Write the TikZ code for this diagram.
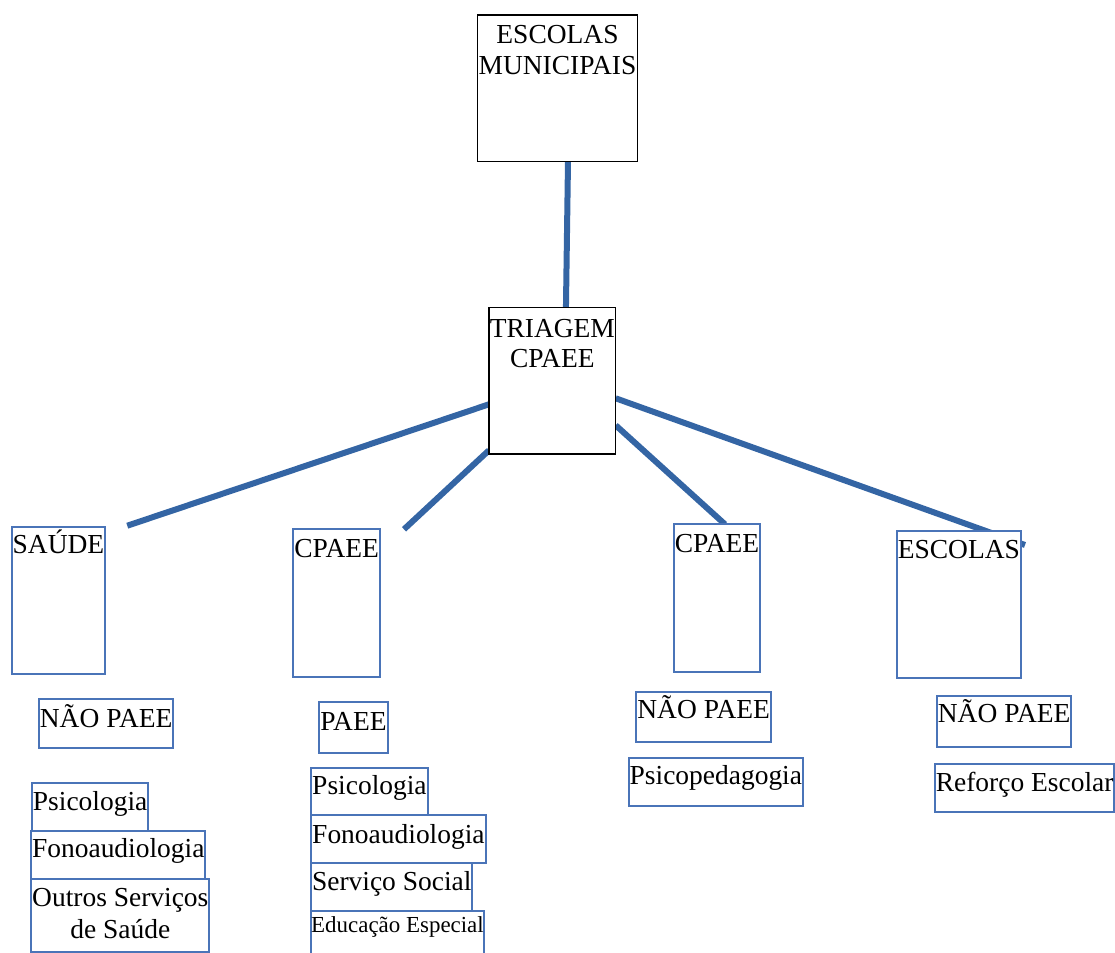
\documentclass[tikz,border=0pt]{standalone}
\usepackage{fontspec}
\setmainfont{Liberation Serif}
\usetikzlibrary{calc,backgrounds}
\definecolor{lineblue}{HTML}{3465A4}
\definecolor{boxblue}{HTML}{4A74B8}
\tikzset{
  bx/.style={draw=boxblue, line width=1.4pt, fill=white, inner sep=0pt, outer sep=0pt, anchor=north west},
  bkbx/.style={bx, draw=black, line width=1.1pt},
  lbl/.style={anchor=base, inner sep=0pt, font=\fontsize{20.6}{23.25}\selectfont, align=center},
  smalllbl/.style={lbl, font=\fontsize{17.2}{20}\selectfont},
  conn/.style={draw=lineblue, line width=4.5pt},
}
\newcommand\mkbox[6]{%
  \node[#2, minimum width={(#5-#3)*0.75pt}, minimum height={(#6-#4)*0.75pt}] (#1) at (#3,#4) {};}
\begin{document}
\begin{tikzpicture}[x=0.75pt, y=-0.75pt]
\useasboundingbox (0,0) rectangle (1115,953);
% top
\mkbox{em}{bkbx}{477.7}{15}{637.3}{161.7}
\mkbox{tri}{bkbx}{489}{307.3}{615.7}{454}
% second row
\mkbox{saude}{bx}{11.7}{526.7}{105.3}{673.7}
\mkbox{cpaeeL}{bx}{293.3}{529.3}{380}{676.7}
\mkbox{cpaeeR}{bx}{673.7}{524.3}{760.3}{671.7}
\mkbox{escolas}{bx}{896.7}{531}{1021}{677.7}
% third row
\mkbox{naoL}{bx}{39}{699.3}{173.3}{747.7}
\mkbox{paee}{bx}{319.3}{702.3}{387.7}{753.3}
\mkbox{naoM}{bx}{636.3}{692}{771}{742.3}
\mkbox{naoR}{bx}{937}{696.3}{1071.3}{747}
% services
\mkbox{psiL}{bx}{32}{783.3}{148.3}{830.7}
\mkbox{fonoL}{bx}{31.3}{830.7}{205.3}{879}
\mkbox{outros}{bx}{31.3}{879}{209.3}{952.3}
\mkbox{psiM}{bx}{311.2}{767.7}{427.7}{815.3}
\mkbox{fonoM}{bx}{311.2}{815.3}{485.7}{863.3}
\mkbox{social}{bx}{311.2}{863.3}{472.3}{910.7}
\mkbox{educ}{bx}{310.7}{910.7}{484.3}{980}
\mkbox{psiped}{bx}{628.7}{757.7}{803}{806}
\mkbox{reforco}{bx}{935}{764.3}{1114.3}{812.3}
% texts (base anchor = baseline of the last line)
\node[lbl] (em-t) at ($(em.north)+(0,59)$) {ESCOLAS\\MUNICIPAIS};
\node[lbl, font=\fontsize{20.6}{22.5}\selectfont] (tri-t) at ($(tri.north)+(0,60)$) {TRIAGEM\\CPAEE};
\node[lbl] (saude-t) at ($(saude.north)+(0,27)$) {SAÚDE};
\node[lbl] (cpaeeL-t) at ($(cpaeeL.north)+(0,28)$) {CPAEE};
\node[lbl] (cpaeeR-t) at ($(cpaeeR.north)+(0,28)$) {CPAEE};
\node[lbl] (escolas-t) at ($(escolas.north)+(0,27)$) {ESCOLAS};
\node[lbl] (naoL-t) at ($(naoL.north)+(0,28)$) {NÃO PAEE};
\node[lbl] (paee-t) at ($(paee.north)+(0,28)$) {PAEE};
\node[lbl] (naoM-t) at ($(naoM.north)+(0,26)$) {NÃO PAEE};
\node[lbl] (naoR-t) at ($(naoR.north)+(0,26)$) {NÃO PAEE};
\node[lbl] (psiL-t) at ($(psiL.north)+(0,27)$) {Psicologia};
\node[lbl] (fonoL-t) at ($(fonoL.north)+(0,27)$) {Fonoaudiologia};
\node[lbl, font=\fontsize{20.6}{24}\selectfont] (outros-t) at ($(outros.north)+(0,59)$) {Outros Serviços\\de Saúde};
\node[lbl] (psiM-t) at ($(psiM.north)+(0,27)$) {Psicologia};
\node[lbl] (fonoM-t) at ($(fonoM.north)+(0,28)$) {Fonoaudiologia};
\node[lbl] (social-t) at ($(social.north)+(0,27)$) {Serviço Social};
\node[smalllbl] (educ-t) at ($(educ.north)+(0,22)$) {Educação Especial};
\node[lbl] (psiped-t) at ($(psiped.north)+(0,27)$) {Psicopedagogia};
\node[lbl] (reforco-t) at ($(reforco.north)+(0,27)$) {Reforço Escolar};
% connectors
\begin{scope}[on background layer]
\draw[conn] ($(em.south)+(10.5,0)$) -- ($(tri.north)+(13.6,0)$);
\draw[conn] ($(tri.north west)+(0,97)$) -- ($(saude.north east)+(22,-1)$);
\draw[conn] ($(tri.north west)+(0,143)$) -- ($(cpaeeL.north east)+(24,0)$);
\draw[conn] ($(tri.north east)+(0,118)$) -- ($(cpaeeR.north)+(8,0)$);
\draw[conn] ($(tri.north east)+(0,91)$) -- ($(escolas.north east)+(4,14)$);
\end{scope}
\end{tikzpicture}
\end{document}
